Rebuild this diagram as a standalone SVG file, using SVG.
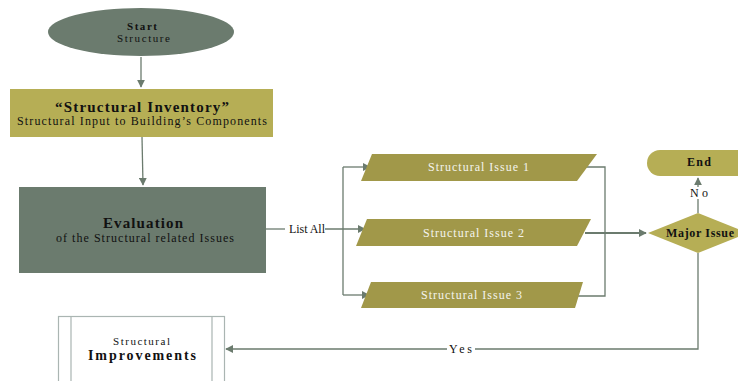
<svg xmlns="http://www.w3.org/2000/svg" width="738" height="381" viewBox="0 0 738 381">
<defs>
<style>
text{font-family:"Liberation Serif","Times New Roman",serif;text-anchor:middle;fill:#111;font-size:12px}
.b{font-weight:bold}
.w{fill:#f4f4ee}
.c{fill:none;stroke:#6b7b6e;stroke-width:1.3}
.g{fill:#6b7b6e}
.y{fill:#b6ae55}
.o{fill:#a19849}
.L{font-size:15px}
.s{font-size:11px}
</style>
<marker id="a" viewBox="0 0 10 10" refX="9" refY="5" markerWidth="8" markerHeight="8" orient="auto" markerUnits="userSpaceOnUse"><path d="M0,0L10,5L0,10z" fill="#6b7b6e"/></marker>
</defs>
<rect width="738" height="381" fill="#fff"/>
<g id="connectors">
<path class="c" d="M141,57V87" marker-end="url(#a)"/>
<path class="c" d="M142,137L143,185" marker-end="url(#a)"/>
<path class="c" d="M266,229H285"/>
<path class="c" d="M325,229H365" marker-end="url(#a)"/>
<path class="c" d="M343,167V295"/>
<path class="c" d="M343,167H370" marker-end="url(#a)"/>
<path class="c" d="M343,295H369" marker-end="url(#a)"/>
<path class="c" d="M586,167H605V296H578"/>
<path class="c" d="M585,233H646" marker-end="url(#a)" style="stroke-width:1.8"/>
<path class="c" d="M698,213V178" marker-end="url(#a)"/>
<path class="c" d="M698,253V349H226" marker-end="url(#a)"/>
<rect x="447" y="343" width="28" height="12" fill="#fff"/>
<text x="460.5" y="353" textLength="23" lengthAdjust="spacing">Yes</text>
<rect x="688" y="187" width="20" height="12" fill="#fff"/>
<text x="699" y="197" textLength="18" lengthAdjust="spacing">No</text>
<text x="307" y="233" textLength="36" lengthAdjust="spacing">List All</text>
</g>
<g id="start">
<ellipse cx="141" cy="32" rx="93" ry="24" class="g"/>
<text x="142" y="29.5" class="b s" textLength="30" lengthAdjust="spacing">Start</text>
<text x="143.5" y="42" class="s" textLength="53" lengthAdjust="spacing">Structure</text>
</g>
<g id="inventory">
<rect x="10" y="89" width="263" height="48" class="y"/>
<text x="142" y="112" class="b L" textLength="174" lengthAdjust="spacing">“Structural Inventory”</text>
<text x="142" y="124.5" textLength="250" lengthAdjust="spacing">Structural Input to Building’s Components</text>
</g>
<g id="evaluation">
<rect x="19" y="187" width="247" height="86" class="g"/>
<text x="143" y="228" class="b L" textLength="80" lengthAdjust="spacing">Evaluation</text>
<text x="145" y="242" textLength="178" lengthAdjust="spacing">of the Structural related Issues</text>
</g>
<g id="issue1">
<polygon points="372,154 597,154 577,181 361,181" class="o"/>
<text x="478.5" y="171" class="w" textLength="101" lengthAdjust="spacing">Structural Issue 1</text>
</g>
<g id="issue2">
<polygon points="367,219 591,219 577,246 356,246" class="o"/>
<text x="473.5" y="237" class="w" textLength="101" lengthAdjust="spacing">Structural Issue 2</text>
</g>
<g id="issue3">
<polygon points="371,282 583,282 575,308 361,308" class="o"/>
<text x="471.5" y="299" class="w" textLength="101" lengthAdjust="spacing">Structural Issue 3</text>
</g>
<g id="major">
<polygon points="648,233 698,213 748,233 698,253" class="y"/>
<text x="700" y="237" class="b" textLength="68" lengthAdjust="spacing">Major Issue</text>
</g>
<g id="end">
<rect x="647" y="150" width="110" height="26" rx="13" class="y"/>
<text x="699" y="166" class="b" textLength="24" lengthAdjust="spacing">End</text>
</g>
<g id="improvements">
<rect x="58.5" y="316.5" width="166" height="70" fill="#fff" stroke="#aab5b2" stroke-width="1.2"/>
<path d="M71,316.5V387M212,316.5V387" stroke="#aab5b2" stroke-width="1.2"/>
<text x="141.5" y="344.5" class="s" textLength="57" lengthAdjust="spacing">Structural</text>
<text x="142" y="360" class="b" style="font-size:14px" textLength="108" lengthAdjust="spacing">Improvements</text>
</g>
</svg>
